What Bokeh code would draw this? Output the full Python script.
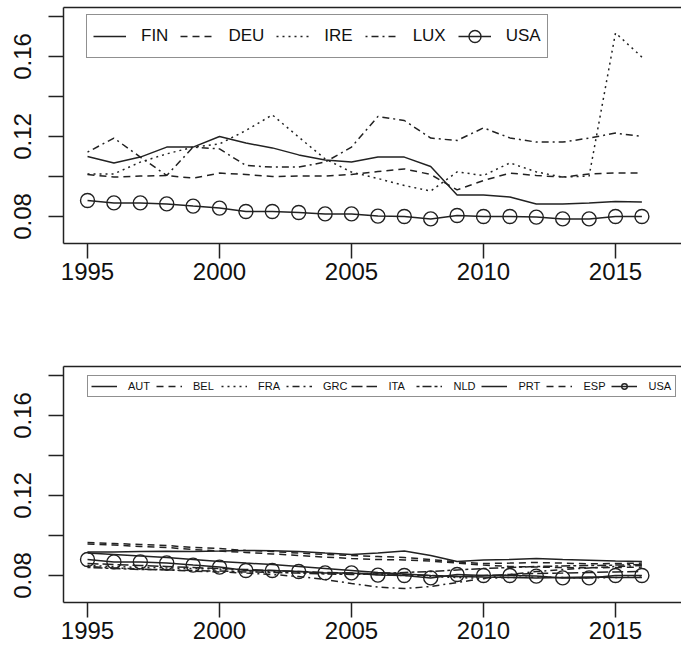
from bokeh.plotting import figure
from bokeh.models import (Range1d, FixedTicker, LinearAxis, Legend, LegendItem,
                          PrintfTickFormatter)
from bokeh.layouts import column
from bokeh.embed import file_html
from bokeh.resources import INLINE

years = list(range(1995, 2017))

# ---- top panel series ----
FIN = [0.1100, 0.1068, 0.1097, 0.1147, 0.1147, 0.1200, 0.1167, 0.1143, 0.1108, 0.1083, 0.1073,
       0.1097, 0.1097, 0.1050, 0.0908, 0.0908, 0.0897, 0.0863, 0.0863, 0.0867, 0.0875, 0.0872]
DEU = [0.1010, 0.0997, 0.1002, 0.1005, 0.0992, 0.1017, 0.1010, 0.1000, 0.1002, 0.1002, 0.1010,
       0.1025, 0.1038, 0.1010, 0.0933, 0.0980, 0.1017, 0.1005, 0.0997, 0.1013, 0.1018, 0.1017]
IRE = [0.1013, 0.1013, 0.1072, 0.1113, 0.1147, 0.1163, 0.1230, 0.1308, 0.1197, 0.1088, 0.1022,
       0.0990, 0.0955, 0.0927, 0.1023, 0.1005, 0.1068, 0.1023, 0.0997, 0.1002, 0.1718, 0.1597]
LUX = [0.1122, 0.1192, 0.1097, 0.1005, 0.1147, 0.1138, 0.1055, 0.1047, 0.1047, 0.1072, 0.1147,
       0.1300, 0.1280, 0.1192, 0.1180, 0.1243, 0.1193, 0.1172, 0.1172, 0.1192, 0.1217, 0.1200]
USA = [0.0880, 0.0868, 0.0868, 0.0863, 0.0852, 0.0842, 0.0825, 0.0825, 0.0820, 0.0813, 0.0813,
       0.0802, 0.0800, 0.0788, 0.0805, 0.0800, 0.0800, 0.0797, 0.0788, 0.0788, 0.0800, 0.0800]

# ---- bottom panel series ----
AUT = [0.0917, 0.0918, 0.0920, 0.0921, 0.0920, 0.0922, 0.0925, 0.0924, 0.0920, 0.0912, 0.0905,
       0.0912, 0.0922, 0.0900, 0.0870, 0.0878, 0.0880, 0.0885, 0.0880, 0.0876, 0.0872, 0.0870]
BEL = [0.0965, 0.0960, 0.0955, 0.0950, 0.0940, 0.0935, 0.0925, 0.0920, 0.0912, 0.0905, 0.0900,
       0.0895, 0.0890, 0.0880, 0.0868, 0.0860, 0.0862, 0.0865, 0.0862, 0.0858, 0.0860, 0.0862]
FRA = [0.0850, 0.0845, 0.0840, 0.0838, 0.0835, 0.0832, 0.0825, 0.0820, 0.0815, 0.0812, 0.0808,
       0.0805, 0.0800, 0.0795, 0.0790, 0.0785, 0.0790, 0.0792, 0.0790, 0.0788, 0.0790, 0.0792]
GRC = [0.0845, 0.0838, 0.0832, 0.0828, 0.0822, 0.0818, 0.0812, 0.0805, 0.0795, 0.0780, 0.0760,
       0.0742, 0.0735, 0.0745, 0.0765, 0.0785, 0.0805, 0.0820, 0.0830, 0.0838, 0.0845, 0.0850]
ITA = [0.0860, 0.0855, 0.0850, 0.0845, 0.0840, 0.0835, 0.0830, 0.0825, 0.0820, 0.0815, 0.0812,
       0.0808, 0.0805, 0.0800, 0.0795, 0.0800, 0.0805, 0.0810, 0.0812, 0.0815, 0.0818, 0.0820]
NLD = [0.0840, 0.0835, 0.0830, 0.0828, 0.0825, 0.0822, 0.0818, 0.0815, 0.0812, 0.0808, 0.0805,
       0.0810, 0.0815, 0.0820, 0.0828, 0.0835, 0.0840, 0.0845, 0.0848, 0.0850, 0.0852, 0.0855]
PRT = [0.0912, 0.0905, 0.0898, 0.0890, 0.0880, 0.0870, 0.0862, 0.0855, 0.0845, 0.0835, 0.0825,
       0.0815, 0.0808, 0.0800, 0.0795, 0.0792, 0.0790, 0.0788, 0.0790, 0.0792, 0.0790, 0.0790]
ESP = [0.0958, 0.0952, 0.0945, 0.0940, 0.0930, 0.0922, 0.0915, 0.0908, 0.0900, 0.0892, 0.0885,
       0.0880, 0.0878, 0.0872, 0.0862, 0.0852, 0.0845, 0.0842, 0.0840, 0.0838, 0.0840, 0.0842]

x_ticks = [1995, 2000, 2005, 2010, 2015]
y_ticks = [0.08, 0.10, 0.12, 0.14, 0.16, 0.18]
y_tick_labels = {0.08: "0.08", 0.10: "", 0.12: "0.12", 0.14: "", 0.16: "0.16", 0.18: ""}

INK = "#222222"
FONT = "Liberation Sans"
DASH = {"solid": "solid", "dashed": "7 5", "dotted": "2 4", "dotdash": "2 4 7 4",
        "longdash": "11 4", "twodash": "3 3 9 3"}


def make_fig(top_border, bottom_border):
    p = figure(output_backend="svg", toolbar_location=None,
               frame_width=618, frame_height=236,
               min_border_left=63, min_border_right=0,
               min_border_top=top_border, min_border_bottom=bottom_border,
               x_range=Range1d(1994.09, 2017.5), y_range=Range1d(0.0665, 0.1845),
               x_axis_location=None, y_axis_location=None)
    p.grid.visible = False
    p.outline_line_color = None
    p.background_fill_color = "white"
    p.border_fill_color = "white"

    xa = LinearAxis(ticker=FixedTicker(ticks=x_ticks))
    ya = LinearAxis(ticker=FixedTicker(ticks=y_ticks),
                    formatter=PrintfTickFormatter(format="%.2f"),
                    major_label_overrides=y_tick_labels,
                    major_label_orientation="vertical")
    for a in (xa, ya):
        a.axis_line_color = INK
        a.axis_line_width = 1.5
        a.major_tick_line_color = INK
        a.major_tick_line_width = 1.5
        a.major_tick_out = 15
        a.major_tick_in = 0
        a.minor_tick_line_color = None
        a.major_label_text_font = FONT
        a.major_label_text_font_size = "24px"
        a.major_label_text_color = "#111111"
    xa.major_label_standoff = 4
    ya.major_label_standoff = 18
    p.add_layout(xa, "below")
    p.add_layout(ya, "left")
    top = LinearAxis(ticker=FixedTicker(ticks=[]), axis_line_color=INK, axis_line_width=1.5,
                     major_tick_line_color=None, minor_tick_line_color=None,
                     major_label_text_font_size="0px")
    p.add_layout(top, "above")
    return p


def add_series(p, data, style, marker=False):
    r = p.line(years, data, line_color=INK, line_width=1.5, line_dash=DASH[style])
    rs = [r]
    if marker:
        s = p.scatter(years, data, marker="circle", size=14, fill_color=None,
                      line_color=INK, line_width=1.4)
        rs.append(s)
    return rs


# ---------- top panel ----------
p1 = make_fig(7, 65)
top_series = [("FIN", FIN, "solid"), ("DEU", DEU, "dashed"), ("IRE", IRE, "dotted"),
              ("LUX", LUX, "dotdash")]
items1 = []
for name, d, st in top_series:
    items1.append(LegendItem(label=name, renderers=add_series(p1, d, st)))
items1.append(LegendItem(label="USA", renderers=add_series(p1, USA, "solid", marker=True)))
leg1 = Legend(items=items1, orientation="horizontal", location=(23, 185),
              label_text_font=FONT, label_text_font_size="17px", label_text_color="#111111",
              glyph_width=33, glyph_height=30, label_height=30, label_standoff=15, spacing=12,
              padding=6, margin=0, border_line_color=INK, border_line_width=1.5,
              background_fill_alpha=1.0)
p1.add_layout(leg1, "center")

# ---------- bottom panel ----------
p2 = make_fig(58, 50)
bottom_series = [("AUT", AUT, "solid"), ("BEL", BEL, "dashed"), ("FRA", FRA, "dotted"),
                 ("GRC", GRC, "dotdash"), ("ITA", ITA, "longdash"), ("NLD", NLD, "twodash"),
                 ("PRT", PRT, "solid"), ("ESP", ESP, "dashed")]
items2 = []
for name, d, st in bottom_series:
    items2.append(LegendItem(label=name, renderers=add_series(p2, d, st)))
items2.append(LegendItem(label="USA", renderers=add_series(p2, USA, "solid", marker=True)))
leg2 = Legend(items=items2, orientation="horizontal", location=(24, 205),
              label_text_font=FONT, label_text_font_size="11px", label_text_color="#111111",
              glyph_width=26, glyph_height=14, label_height=14, label_width=24,
              label_standoff=11, spacing=4, padding=3, margin=0,
              border_line_color=INK, border_line_width=1.5, background_fill_alpha=1.0)
p2.add_layout(leg2, "center")

layout = column(p1, p2, spacing=0)
open("out.html", "w").write(file_html(layout, INLINE))
